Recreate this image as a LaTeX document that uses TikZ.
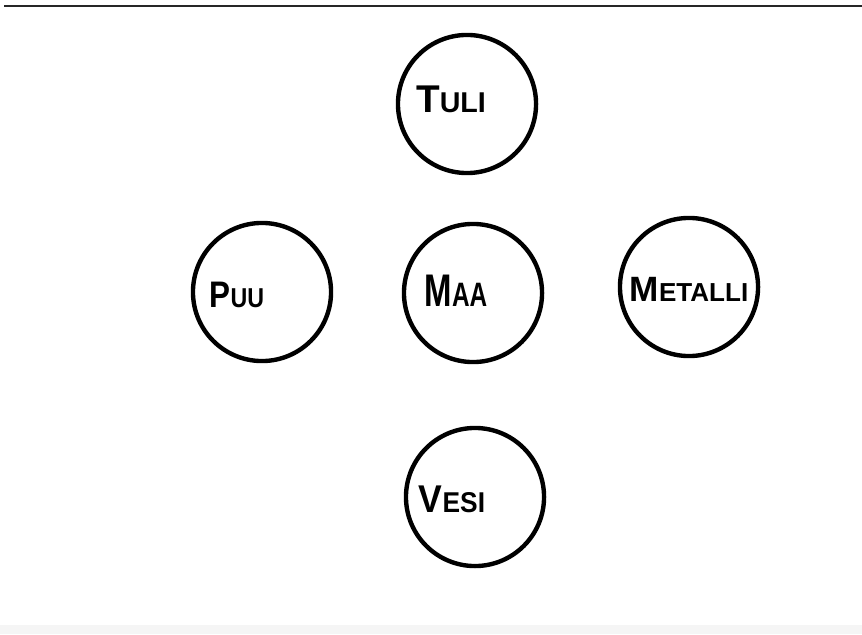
\documentclass[tikz,border=0pt]{standalone}
\usepackage{fontspec}
\setmainfont{Liberation Sans}
\newcommand{\hlbl}[3]{{\bfseries\fontsize{#3}{#3}\selectfont #1\fontsize{0.74\dimexpr #3pt\relax}{#3}\selectfont #2}}
\tikzset{
  elem/.style={circle, draw=black, line width=1.25pt, minimum size=1.38cm, inner sep=0pt},
  lbl/.style={inner sep=0pt, text=black}
}
\begin{document}
\begin{tikzpicture}[x=0.01cm, y=-0.01cm]
\useasboundingbox (0,0) rectangle (862,634);
\fill[white] (0,0) rectangle (862,634);
\fill[black!4] (0,625) rectangle (862,634);
\draw[black!85, line width=0.6pt] (4,6) -- (862,6);
% circles
\node[elem] (tuli) at (467,104) {};
\node[elem] (puu) at (262,292) {};
\node[elem] (maa) at (473,293) {};
\node[elem] (metalli) at (689,287) {};
\node[elem] (vesi) at (475,497) {};
% labels
\node[lbl] (tulit) at (451,99) {\hlbl{T}{ULI}{11}};
\node[lbl] (puut) at (237,295) {\scalebox{0.85}[1]{\hlbl{P}{UU}{10.5}}};
\node[lbl] (maat) at (456,291) {\scalebox{0.72}[1]{\hlbl{M}{AA}{13}}};
\node[lbl] (metallit) at (689,289) {\hlbl{M}{ETALLI}{10}};
\node[lbl] (vesit) at (452,499) {\scalebox{0.92}[1]{\hlbl{V}{ESI}{11}}};
\end{tikzpicture}
\end{document}
